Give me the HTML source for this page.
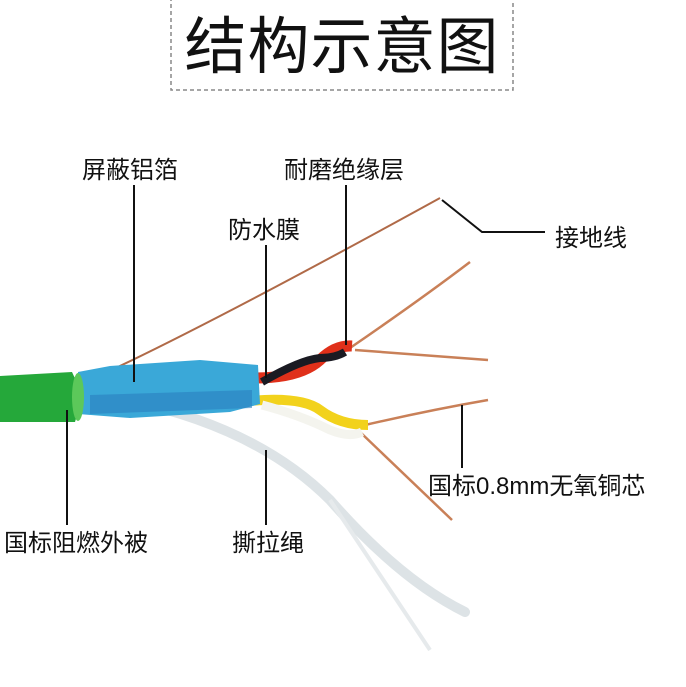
<!DOCTYPE html>
<html><head><meta charset="utf-8"><style>
body{margin:0;background:#fff;width:686px;height:682px;overflow:hidden}
text{font-family:"Liberation Sans","Noto Sans CJK SC",sans-serif;fill:#111}
</style></head><body>
<svg width="686" height="682" viewBox="0 0 686 682" xmlns="http://www.w3.org/2000/svg">
<rect x="171" y="-5" width="342" height="95" fill="none" stroke="#888" stroke-width="1.5" stroke-dasharray="4,3"/>
<text x="342" y="68" font-size="62" text-anchor="middle" letter-spacing="1">结构示意图</text>
<path d="M90 380 Q200 330 440 198" stroke="#b06a48" stroke-width="2" fill="none"/>
<path d="M350 348 Q420 300 470 262" stroke="#c98058" stroke-width="2.5" fill="none"/>
<path d="M355 350 Q420 355 488 360" stroke="#c98058" stroke-width="2.5" fill="none"/>
<path d="M365 425 Q430 410 488 400" stroke="#c98058" stroke-width="2.5" fill="none"/>
<path d="M360 432 Q410 480 452 520" stroke="#c98058" stroke-width="2.5" fill="none"/>
<path d="M100 395 Q250 420 330 500 Q400 580 465 612" stroke="#dde3e6" stroke-width="10" fill="none" stroke-linecap="round"/>
<path d="M330 500 Q390 590 430 650" stroke="#e6eaec" stroke-width="4" fill="none"/>
<path d="M240 402 Q300 395 320 410 Q340 425 368 425" stroke="#f2d21c" stroke-width="10" fill="none"/>
<path d="M262 405 Q300 415 330 430 Q350 438 362 432" stroke="#f4f4ee" stroke-width="9" fill="none"/>
<path d="M255 378 Q300 378 320 360 Q335 345 352 346" stroke="#e0301a" stroke-width="11" fill="none"/>
<path d="M262 382 Q300 360 320 358 Q335 358 345 352" stroke="#1a1a22" stroke-width="8" fill="none"/>
<path d="M78 372 L110 366 L200 360 L258 365 L260 404 L230 412 L130 418 L78 414 Z" fill="#3aa8d8"/>
<path d="M90 395 L252 390 L252 408 L90 414 Z" fill="#2a7fc0" opacity="0.6"/>
<path d="M0 376 L72 372 Q84 395 75 422 L0 422 Z" fill="#25a83a"/>
<ellipse cx="78" cy="397" rx="6" ry="24" fill="#5cc85a"/>
<g stroke="#111" stroke-width="2" fill="none">
<line x1="134" y1="185" x2="134" y2="382"/>
<line x1="346" y1="185" x2="346" y2="345"/>
<line x1="266" y1="245" x2="266" y2="378"/>
<polyline points="442,200 482,232 545,232"/>
<line x1="462" y1="405" x2="462" y2="468"/>
<line x1="67" y1="410" x2="67" y2="525"/>
<line x1="266" y1="450" x2="266" y2="525"/>
</g>
<g font-size="24">
<text x="82" y="178">屏蔽铝箔</text>
<text x="284" y="178">耐磨绝缘层</text>
<text x="228" y="238">防水膜</text>
<text x="555" y="246">接地线</text>
<text x="428" y="494">国标0.8mm无氧铜芯</text>
<text x="4" y="551">国标阻燃外被</text>
<text x="232" y="551">撕拉绳</text>
</g>
</svg>
</body></html>
